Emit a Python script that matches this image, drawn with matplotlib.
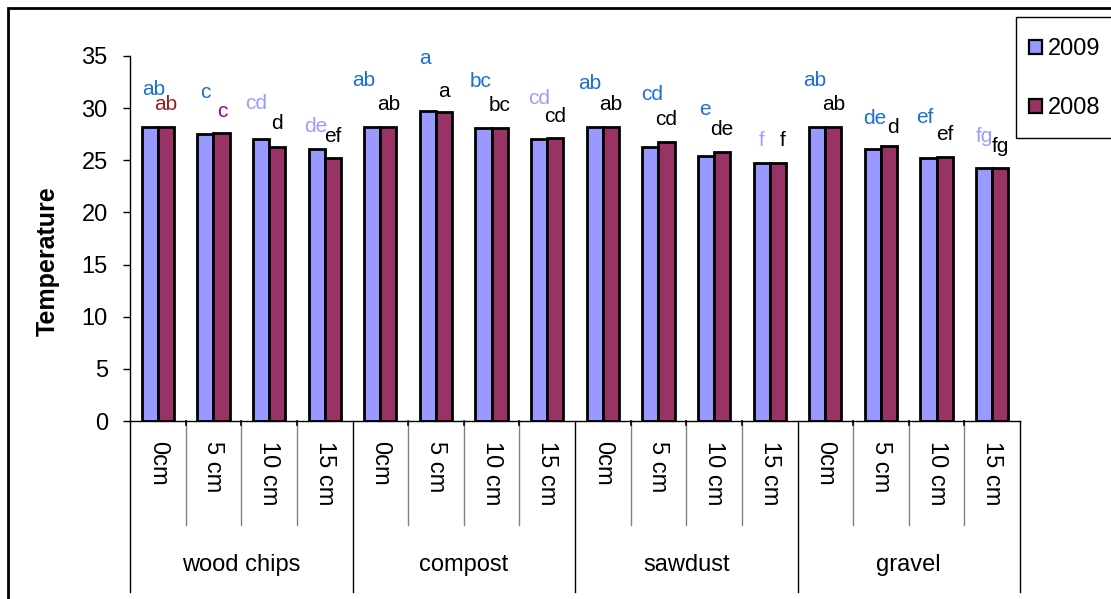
import numpy as np
import matplotlib
matplotlib.use("Agg")
import matplotlib.pyplot as plt
import matplotlib.transforms as mtransforms
from matplotlib.patches import Rectangle, Patch

plt.rcParams["font.family"] = ["Liberation Sans", "DejaVu Sans"]

# data
substrates = ["wood chips", "compost", "sawdust", "gravel"]
depths = ["0cm", "5 cm", "10 cm", "15 cm"]
temp_2009 = [28.2, 27.5, 27.0, 26.1, 28.2, 29.7, 28.1, 27.0,
             28.2, 26.3, 25.4, 24.7, 28.2, 26.1, 25.2, 24.3]
temp_2008 = [28.2, 27.6, 26.3, 25.2, 28.2, 29.6, 28.1, 27.1,
             28.2, 26.8, 25.8, 24.7, 28.2, 26.4, 25.3, 24.3]
letters_2009 = ["ab", "c", "cd", "de", "ab", "a", "bc", "cd",
                "ab", "cd", "e", "f", "ab", "de", "ef", "fg"]
letters_2008 = ["ab", "c", "d", "ef", "ab", "a", "bc", "cd",
                "ab", "cd", "de", "f", "ab", "d", "ef", "fg"]

# letter styling / placement (pixels relative to bar top)
BLUE, LILAC, DRED, PURP, BLK = "#1a70d6", "#9d9dff", "#9b1c1c", "#990099", "black"
col_2009 = [BLUE, BLUE, LILAC, LILAC, BLUE, BLUE, BLUE, LILAC,
            BLUE, BLUE, BLUE, LILAC, BLUE, BLUE, BLUE, LILAC]
col_2008 = [DRED, PURP] + [BLK] * 14
dx_2009 = [-4, -8, -13, -9, -17, -11, -11, -8, -13, -6, -9, -8, -11, -6, -12, -8]
dy_2009 = [37, 42, 36, 22, 46, 53, 46, 41, 43, 52, 47, 23, 46, 30, 41, 31]
dx_2008 = [8, 9, 8, 8, 8, 8, 8, 8, 8, 8, 8, 13, 8, 12, 8, 8]
dy_2008 = [22, 22, 23, 22, 22, 21, 22, 22, 22, 22, 22, 23, 22, 18, 23, 21]

W, H = 1111, 599
fig = plt.figure(figsize=(W / 100, H / 100), dpi=100)
ax = fig.add_axes([130 / W, 1 - 421 / H, 890 / W, 365 / H])

n = len(temp_2009)
x = np.arange(n)
bw = 0.29
ax.bar(x - bw / 2, temp_2009, bw, color="#9999ff", edgecolor="black", linewidth=2, label="2009")
ax.bar(x + bw / 2, temp_2008, bw, color="#993366", edgecolor="black", linewidth=2, label="2008")

for i in range(n):
    ax.annotate(letters_2009[i], (x[i], temp_2009[i]), xytext=(dx_2009[i], dy_2009[i]),
                textcoords="offset pixels", ha="center", va="center",
                fontsize=15, color=col_2009[i])
    ax.annotate(letters_2008[i], (x[i], temp_2008[i]), xytext=(dx_2008[i], dy_2008[i]),
                textcoords="offset pixels", ha="center", va="center",
                fontsize=15, color=col_2008[i])

ax.set_xlim(-0.5, n - 0.5)
ax.set_ylim(0, 35)
ax.set_yticks(np.arange(0, 36, 5))
ax.tick_params(axis="y", length=5, width=1, pad=11, labelsize=17)
ax.set_xticks(np.arange(n + 1) - 0.5)
ax.set_xticklabels([])
ax.tick_params(axis="x", length=0)
for s in ["top", "right"]:
    ax.spines[s].set_visible(False)
ax.spines["left"].set_linewidth(1)
ax.spines["bottom"].set_linewidth(1)
ax.set_ylabel("Temperature", fontsize=18, fontweight="bold")
ax.yaxis.set_label_coords(-0.079, 0.438)

# category box below the axis
trans = mtransforms.blended_transform_factory(ax.transData, ax.transAxes)
ng = len(depths)
for b in range(n + 1):
    if b % ng == 0:
        ax.plot([b - 0.5, b - 0.5], [0, -0.468], color="black", lw=1,
                transform=trans, clip_on=False)
    else:
        ax.plot([b - 0.5, b - 0.5], [0, -0.285], color="#808080", lw=1,
                transform=trans, clip_on=False)
        ax.plot([b - 0.5, b - 0.5], [0, -0.012], color="black", lw=1.2,
                transform=trans, clip_on=False)
for i in range(n):
    ax.text(x[i], -0.055, depths[i % ng], transform=trans, rotation=-90,
            ha="center", va="top", fontsize=17)
for g, name in enumerate(substrates):
    ax.text(g * ng + (ng - 1) / 2, -0.395, name, transform=trans,
            ha="center", va="center", fontsize=17)

# legend (frame drawn separately so it can run off the right edge)
handles = [Patch(facecolor="#9999ff", edgecolor="black", lw=1.6, label="2009"),
           Patch(facecolor="#993366", edgecolor="black", lw=1.6, label="2008")]
fig.legend(handles=handles, loc="upper left", bbox_to_anchor=(1029 / W, 1 - 38 / H),
           borderaxespad=0, borderpad=0, fontsize=17, frameon=False,
           handlelength=0.55, handleheight=0.55, handletextpad=0.25,
           labelspacing=1.57)
fig.add_artist(Rectangle((1016 / W, 1 - 138 / H), 0.2, 121 / H, transform=fig.transFigure,
                         fill=False, edgecolor="black", lw=1))

# chart area border
fig.add_artist(Rectangle((8 / W, -0.1), 1.2, 1.1 - 8 / H, transform=fig.transFigure,
                         fill=False, edgecolor="black", lw=2))

fig.savefig("out.png", dpi=100)
